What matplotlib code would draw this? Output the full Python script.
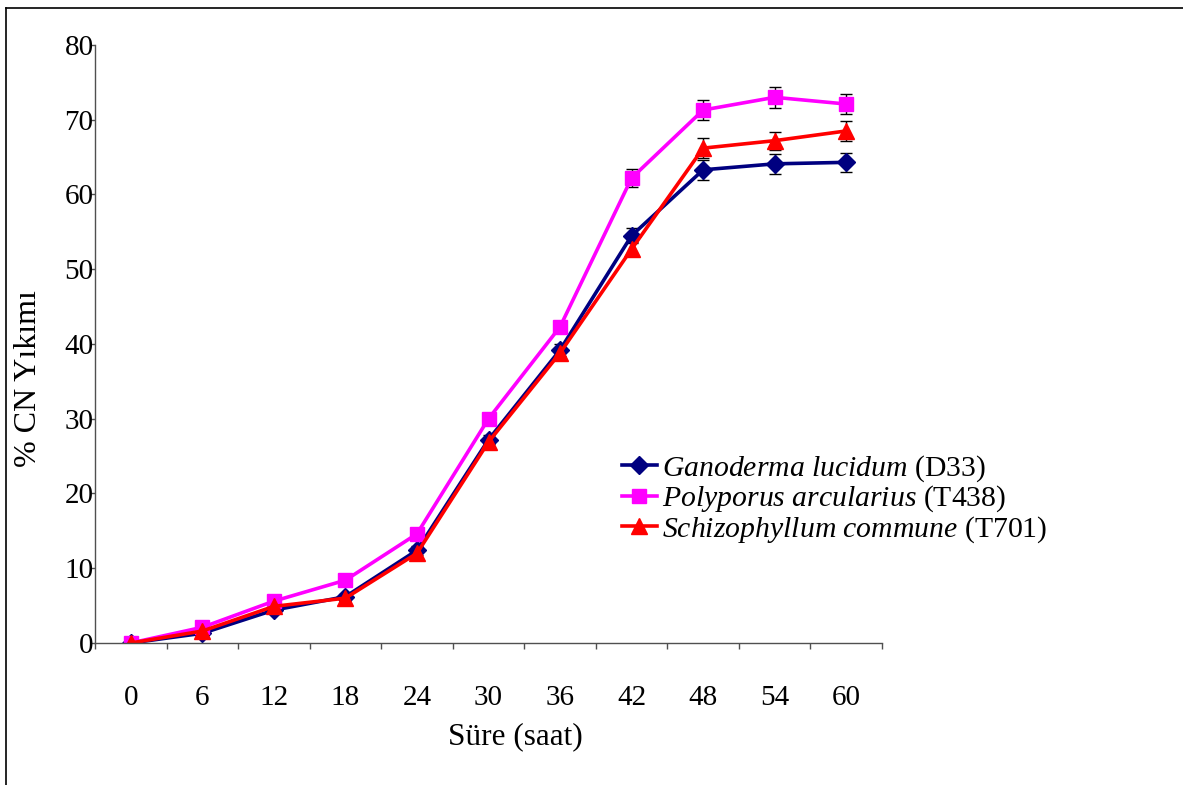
import matplotlib
matplotlib.use("Agg")
import matplotlib.pyplot as plt
from matplotlib.lines import Line2D
import numpy as np

# Data
hours = ["0", "6", "12", "18", "24", "30", "36", "42", "48", "54", "60"]

ganoderma = [0.0, 1.3, 4.4, 6.2, 12.4, 27.2, 39.2, 54.5, 63.3, 64.1, 64.3]
polyporus = [0.0, 2.1, 5.6, 8.4, 14.6, 30.0, 42.3, 62.2, 71.3, 73.0, 72.1]
schizophyllum = [0.0, 1.6, 4.9, 6.0, 12.0, 26.9, 38.8, 52.7, 66.2, 67.2, 68.5]

ganoderma_err = [0.0, 0.3, 0.4, 0.4, 0.6, 0.6, 0.8, 1.0, 1.3, 1.3, 1.3]
polyporus_err = [0.0, 0.3, 0.4, 0.4, 0.5, 0.6, 0.7, 1.2, 1.4, 1.4, 1.4]
schizophyllum_err = [0.0, 0.3, 0.4, 0.4, 0.5, 0.6, 0.7, 0.9, 1.3, 1.2, 1.3]

labels = [
    r"$\mathit{Ganoderma\ lucidum}$ (D33)",
    r"$\mathit{Polyporus\ arcularius}$ (T438)",
    r"$\mathit{Schizophyllum\ commune}$ (T701)",
]

plt.rcParams["font.family"] = ["Liberation Serif", "DejaVu Serif"]
plt.rcParams["mathtext.fontset"] = "custom"
plt.rcParams["mathtext.rm"] = "Liberation Serif"
plt.rcParams["mathtext.it"] = "Liberation Serif:italic"

TICK_FS = 21
LEG_FS = 21.4

fig = plt.figure(figsize=(11.83, 7.85), dpi=100)
ax = fig.add_axes([0.0803, 0.1809, 0.6653, 0.7618])

x = np.arange(len(hours))
series = [
    (ganoderma, ganoderma_err, "#000080", "D", 9),
    (polyporus, polyporus_err, "#FF00FF", "s", 10),
    (schizophyllum, schizophyllum_err, "#FF0000", "^", 11),
]
handles = []
for (vals, err, col, mk, ms), lab in zip(series, labels):
    ax.errorbar(x, vals, yerr=err, fmt="none", ecolor="black",
                elinewidth=1.0, capsize=4.5, capthick=1.0, zorder=1)
    h, = ax.plot(x, vals, color=col, marker=mk, markersize=ms,
                 linewidth=2.6, markeredgecolor=col, label=lab, zorder=2)
    handles.append(h)

ax.set_xlim(-0.5, len(hours) - 0.5)
ax.set_ylim(0, 80)

# category axis: tick marks at boundaries, labels at centres
ax.set_xticks(np.arange(-0.5, len(hours), 1.0))
ax.set_xticklabels([])
ax.set_xticks(x, minor=True)
ax.set_xticklabels(hours, minor=True, fontsize=TICK_FS)
ax.tick_params(axis="x", which="major", direction="out", length=4,
               width=1, color="#505050")
ax.tick_params(axis="x", which="minor", length=0, pad=30)

ax.set_yticks(np.arange(0, 81, 10))
ax.set_yticklabels([str(v) for v in range(0, 81, 10)], fontsize=TICK_FS)
ax.tick_params(axis="y", direction="out", length=3, width=1,
               color="#505050", pad=-2)

for side in ["top", "right"]:
    ax.spines[side].set_visible(False)
for side in ["left", "bottom"]:
    ax.spines[side].set_color("#505050")
    ax.spines[side].set_linewidth(1.0)

ax.set_xlabel("Süre (saat)", fontsize=22.5)
ax.xaxis.set_label_coords(0.534, -0.157)
ax.xaxis.label.set_va("center")
ax.set_ylabel("% CN Yıkımı", fontsize=23)
ax.yaxis.set_label_coords(-0.084, 0.443)
ax.yaxis.label.set_va("center")

fig.legend(handles=handles, loc="upper left",
           bbox_to_anchor=(0.5258, 0.423), frameon=False, fontsize=LEG_FS,
           handlelength=1.17, handletextpad=0.17, labelspacing=0.0,
           borderpad=0, borderaxespad=0)

# outer frame (left and top edges visible)
fig.add_artist(Line2D([6 / 1183, 6 / 1183], [0, 1 - 8 / 785],
                      transform=fig.transFigure, color="black", linewidth=1.2))
fig.add_artist(Line2D([6 / 1183, 1], [1 - 8 / 785, 1 - 8 / 785],
                      transform=fig.transFigure, color="black", linewidth=1.2))

fig.savefig("out.png", dpi=100)
